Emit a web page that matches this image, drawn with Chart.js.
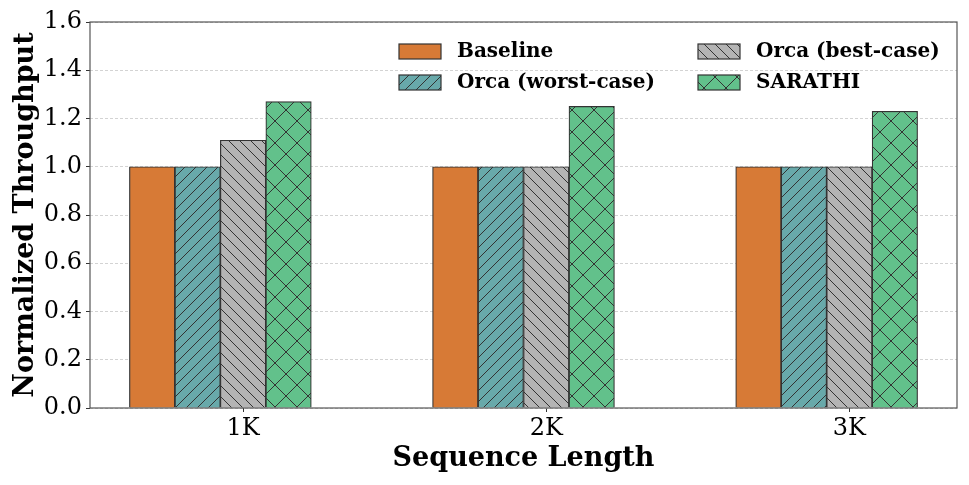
<!DOCTYPE html>
<html>
<head>
<meta charset="utf-8">
<script src="https://cdn.jsdelivr.net/npm/chart.js@4/dist/chart.umd.min.js"></script>
<style>
  html, body { margin: 0; padding: 0; background: #fff; }
  #wrap { width: 969px; height: 485px; }
</style>
</head>
<body>
<div id="wrap"><canvas id="tputChart" width="969" height="485"></canvas></div>
<script>
// values
const seqLengths = ['1K', '2K', '3K'];
const seriesNames = ['Baseline', 'Orca (worst-case)', 'Orca (best-case)', 'SARATHI'];
const baseline = [1.0, 1.0, 1.0];
const orcaWorst = [1.0, 1.0, 1.0];
const orcaBest = [1.11, 1.0, 1.0];
const sarathi = [1.27, 1.25, 1.23];
const yTicks = [0.0, 0.2, 0.4, 0.6, 0.8, 1.0, 1.2, 1.4, 1.6];

const seriesValues = [baseline, orcaWorst, orcaBest, sarathi];
const fills = ['#d77a36', '#68a9aa', '#b4b4b4', '#62c18b'];
const hatches = ['', '/', '\\', 'x'];
const barW = 0.15;

// small canvas patterns to imitate matplotlib hatching
function makeHatch(color, kind) {
    if (!kind) return color;
    const s = kind === 'x' ? 22 : 11;
    const c = document.createElement('canvas');
    c.width = s; c.height = s;
    const g = c.getContext('2d');
    g.fillStyle = color;
    g.fillRect(0, 0, s, s);
    g.strokeStyle = '#333';
    g.lineWidth = 1;
    g.beginPath();
    if (kind === '/' || kind === 'x') {
        g.moveTo(-s, s); g.lineTo(s, -s);
        g.moveTo(0, s); g.lineTo(s, 0);
        g.moveTo(0, 2 * s); g.lineTo(2 * s, 0);
    }
    if (kind === '\\' || kind === 'x') {
        g.moveTo(-s, 0); g.lineTo(s, 2 * s);
        g.moveTo(0, 0); g.lineTo(s, s);
        g.moveTo(0, -s); g.lineTo(2 * s, s);
    }
    g.stroke();
    return g.createPattern(c, 'repeat');
}

const datasets = seriesNames.map((name, k) => ({
    label: name,
    data: seriesValues[k].map((v, i) => ({ x: i + (k - 2) * barW, y: v })),
    backgroundColor: makeHatch(fills[k], hatches[k]),
    borderColor: '#333',
    borderWidth: 1.2,
    grouped: false,
    categoryPercentage: 1.0,
    barPercentage: 1.0
}));

const serif = 'DejaVu Serif';

// full box around the plot, like matplotlib spines
const frame = {
    id: 'frame',
    afterDraw(chart) {
        const a = chart.chartArea, ctx = chart.ctx;
        ctx.save();
        ctx.strokeStyle = '#555';
        ctx.lineWidth = 1.2;
        ctx.strokeRect(a.left, a.top, a.right - a.left, a.bottom - a.top);
        ctx.restore();
    }
};

// two column legend (column-major, as in the figure)
const twoColLegend = {
    id: 'twoColLegend',
    afterDraw(chart) {
        const ctx = chart.ctx;
        ctx.save();
        ctx.font = 'bold 20px "' + serif + '"';
        ctx.textBaseline = 'middle';
        chart.data.datasets.forEach((ds, k) => {
            const col = Math.floor(k / 2), row = k % 2;
            const x = 399 + col * 299, y = 44 + row * 31;
            ctx.fillStyle = ds.backgroundColor;
            ctx.fillRect(x, y, 42, 15);
            ctx.strokeStyle = '#333';
            ctx.lineWidth = 1.2;
            ctx.strokeRect(x, y, 42, 15);
            ctx.fillStyle = '#000';
            ctx.fillText(ds.label, x + 58, y + 8);
        });
        ctx.restore();
    }
};

new Chart(document.getElementById('tputChart'), {
    type: 'bar',
    data: { datasets: datasets },
    plugins: [frame, twoColLegend],
    options: {
        responsive: false,
        animation: false,
        layout: { padding: { top: 22, right: 12, left: 0, bottom: 0 } },
        plugins: { legend: { display: false }, tooltip: { enabled: false } },
        scales: {
            x: {
                type: 'linear',
                offset: false,
                min: -0.505,
                max: 2.355,
                afterFit(scale) { scale.height = 77; },
                afterBuildTicks(scale) { scale.ticks = seqLengths.map((_, i) => ({ value: i })); },
                ticks: {
                    callback: (v) => seqLengths[Math.round(v)],
                    font: { family: serif, size: 24 },
                    color: '#000',
                    padding: 2,
                    maxRotation: 0
                },
                grid: { offset: false, drawOnChartArea: false, drawTicks: true, tickLength: 4, tickColor: '#333', tickWidth: 1 },
                border: { display: false },
                title: {
                    display: true,
                    text: 'Sequence Length',
                    font: { family: serif, size: 27, weight: 'bold' },
                    color: '#000',
                    padding: { top: 0, bottom: 10 }
                }
            },
            y: {
                min: 0,
                max: 1.6,
                afterFit(scale) { scale.width = 90; },
                afterBuildTicks(scale) { scale.ticks = yTicks.map(v => ({ value: v })); },
                ticks: {
                    callback: (v) => v.toFixed(1),
                    font: { family: serif, size: 24 },
                    color: '#000',
                    padding: 4
                },
                grid: {
                    color: '#c8c8c8',
                    lineWidth: 0.8,
                    borderDash: [3, 2],
                    tickLength: 4,
                    tickColor: '#333',
                    tickWidth: 1,
                    tickBorderDash: []
                },
                border: { display: false, dash: [3, 2] },
                title: {
                    display: true,
                    text: 'Normalized Throughput',
                    font: { family: serif, size: 27, weight: 'bold' },
                    color: '#000',
                    padding: { top: 10, bottom: 0 }
                }
            }
        }
    }
});
</script>
</body>
</html>
